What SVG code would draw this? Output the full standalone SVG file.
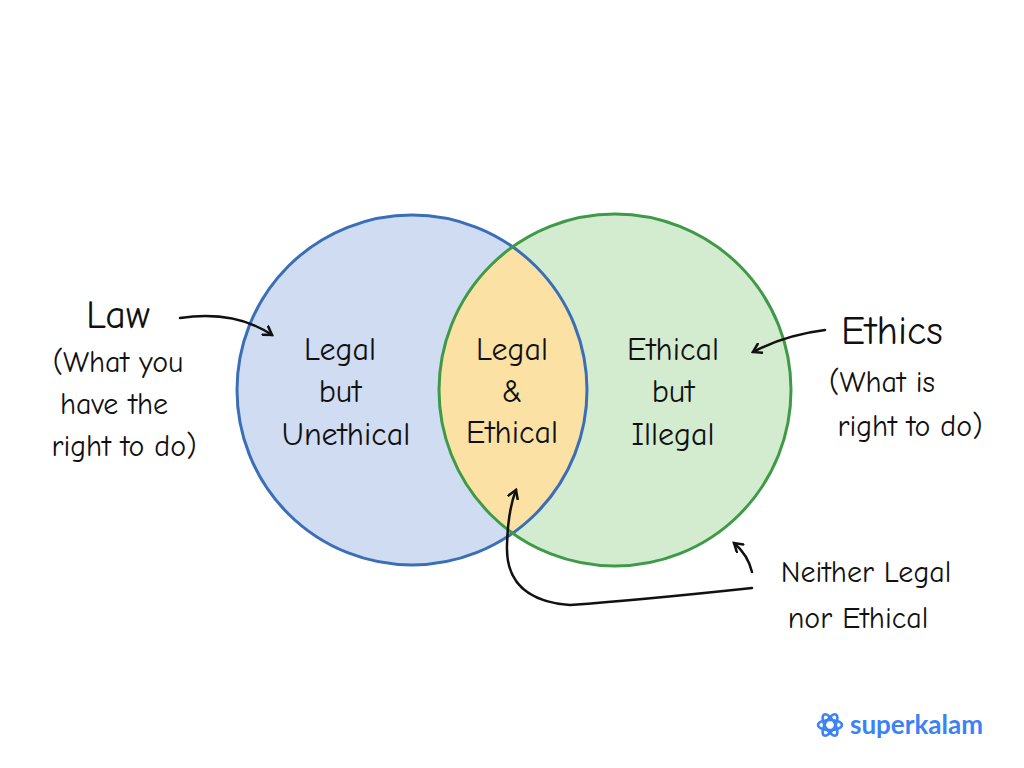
<svg xmlns="http://www.w3.org/2000/svg" width="1024" height="768" viewBox="0 0 1024 768">
<defs>
<style>
.t{font-family:"Comic Neue","Lato","Liberation Sans",sans-serif;fill:#111;text-anchor:middle}
.c{fill:none;stroke:#111;stroke-width:2.5;stroke-linecap:round}
</style>
<marker id="ah" markerWidth="12" markerHeight="12" refX="9" refY="6" orient="auto" markerUnits="userSpaceOnUse"><path d="M1,1 L9,6 L1,11" fill="none" stroke="#111" stroke-width="2.5" stroke-linecap="round"/></marker>
<clipPath id="lc"><circle cx="412" cy="390" r="175"/></clipPath>
</defs>
<rect width="1024" height="768" fill="#fff"/>
<g id="law-circle"><circle cx="412" cy="390" r="175" fill="#cfdcf2"/></g>
<g id="ethics-circle"><circle cx="615" cy="390" r="176" fill="#d3ecd0"/></g>
<g id="overlap"><circle cx="615" cy="390" r="176" fill="#fbe2a4" clip-path="url(#lc)"/></g>
<circle cx="412" cy="390" r="175" fill="none" stroke="#3a6fb8" stroke-width="3"/>
<circle cx="615" cy="390" r="176" fill="none" stroke="#3f9a48" stroke-width="3"/>
<g font-size="32">
<text class="t" x="340" y="360">Legal</text><text class="t" x="340" y="402">but</text><text class="t" x="346" y="445">Unethical</text>
<text class="t" x="512" y="360">Legal</text><text class="t" x="512" y="402">&amp;</text><text class="t" x="512" y="443">Ethical</text>
<text class="t" x="673" y="360">Ethical</text><text class="t" x="673" y="402">but</text><text class="t" x="673" y="445">Illegal</text>
</g>
<g id="law-label"><text class="t" x="118" y="328" font-size="40">Law</text>
<g font-size="30"><text class="t" x="118" y="372">(What you</text><text class="t" x="114" y="414">have the</text><text class="t" x="124" y="456">right to do)</text></g></g>
<g id="ethics-label"><text class="t" x="892" y="344" font-size="40">Ethics</text>
<g font-size="30"><text class="t" x="882" y="392">(What is</text><text class="t" x="910" y="436">right to do)</text></g></g>
<g id="neither-label" font-size="30"><text class="t" x="866" y="582">Neither Legal</text><text class="t" x="858" y="628">nor Ethical</text></g>
<g id="connectors">
<path class="c" d="M180,318 Q235,310 272,335" marker-end="url(#ah)"/>
<path class="c" d="M825,330 Q785,335 753,352" marker-end="url(#ah)"/>
<path class="c" d="M752,572 Q748,555 734,543" marker-end="url(#ah)"/>
<path class="c" d="M752,588 Q640,600 570,605 Q505,600 507,545 Q508,510 516,490" marker-end="url(#ah)"/>
</g>
<g id="logo">
<g fill="none" stroke="#3b82f6" stroke-width="2.5"><ellipse cx="830" cy="725" rx="12" ry="5"/><ellipse cx="830" cy="725" rx="12" ry="5" transform="rotate(60 830 725)"/><ellipse cx="830" cy="725" rx="12" ry="5" transform="rotate(-60 830 725)"/></g>
<text x="850" y="734" font-family="Lato,'Liberation Sans',sans-serif" font-weight="bold" font-size="26" fill="#3b82f6">superkalam</text>
</g>
</svg>
